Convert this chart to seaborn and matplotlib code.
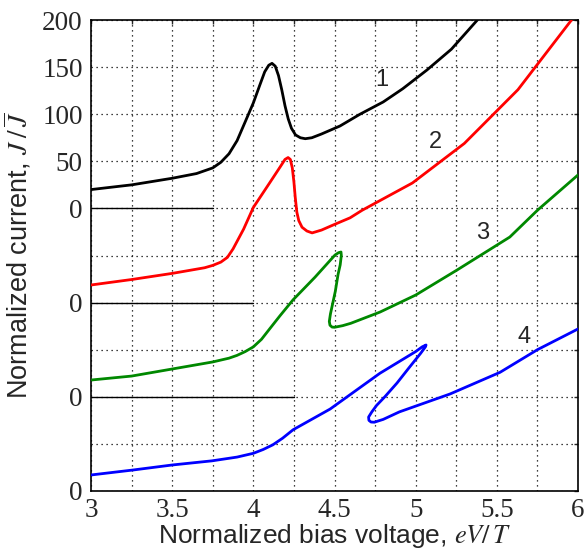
import matplotlib
matplotlib.use("Agg")
import matplotlib.pyplot as plt
import seaborn as sns
import numpy as np
import pandas as pd

# ---- data (relative current of each curve) ----
x1 = [3.0, 3.25, 3.5, 3.65, 3.75, 3.8, 3.85, 3.9, 3.95, 4.0, 4.04, 4.07, 4.095, 4.115, 4.135, 4.155,
      4.175, 4.195, 4.215, 4.235, 4.26, 4.29, 4.32, 4.36, 4.42, 4.534, 4.657, 4.8, 4.92, 5.07, 5.22, 5.38]
y1 = [20, 25, 32, 37, 43, 49, 58, 72, 92, 112, 131, 145, 152, 154, 151, 141,
      126, 109, 95, 85, 78, 75, 74, 75, 79, 87.5, 100, 113, 127, 147, 169, 200]

x2 = [3.0, 3.25, 3.5, 3.7, 3.75, 3.8, 3.84, 3.875, 3.94, 4.0, 4.05, 4.1, 4.165, 4.195, 4.214, 4.228, 4.24,
      4.25, 4.258, 4.268, 4.28, 4.3, 4.33, 4.362, 4.42, 4.5, 4.596, 4.67, 4.98, 5.30, 5.63, 5.96]
y2 = [18.7, 24.5, 31, 37, 39.5, 43, 48, 57, 78, 101, 114, 127, 144, 152, 154, 152, 143,
      128, 112, 96, 87, 80, 76, 74, 77, 83, 90, 98, 127, 169, 226, 300]

x3 = [3.0, 3.25, 3.5, 3.75, 3.85, 3.9, 3.95, 4.0, 4.05, 4.1, 4.164, 4.245, 4.38, 4.503, 4.525, 4.54,
      4.542, 4.535, 4.522, 4.505, 4.49, 4.475, 4.468, 4.472, 4.485, 4.5, 4.55, 4.6, 4.781, 5.0,
      5.255, 5.58, 5.75, 6.0]
y3 = [17.8, 22, 29.5, 37, 41, 44, 48, 53, 61, 72, 86, 103, 127, 150.5, 153, 153.7,
      150, 140, 130, 112, 100, 88, 80, 76, 74, 73.8, 75.5, 78, 90, 108,
      134.6, 169.6, 198, 235.5]

x4 = [3.0, 3.26, 3.5, 3.745, 3.9, 4.0, 4.06, 4.12, 4.18, 4.245, 4.473, 4.78, 5.0, 5.04, 5.064, 5.06,
      5.03, 4.96, 4.885, 4.81, 4.76, 4.73, 4.71, 4.712, 4.725, 4.745, 4.8, 4.9, 5.212, 5.52, 5.75, 6.0]
y4 = [17, 22.3, 27.6, 32, 36, 40, 44, 49, 56, 65, 87, 125, 148, 153, 155, 153,
      146, 131, 114.6, 100, 91, 84, 78.5, 75, 73.2, 73, 76, 84, 103, 126, 150, 172]

offsets = [300, 200, 100, 0]
baseline_ends = [3.75, 4.0, 4.25]
colors = ["black", "red", "#008800", "blue"]
curve_labels = ["1", "2", "3", "4"]
label_x = [4.79, 5.12, 5.41, 5.67]
label_y = [136, 170.5, 174, 163]

yticks = list(range(0, 501, 50))
ytick_labels = ["0", "", "0", "", "0", "", "0", "50", "100", "150", "200"]
xticks = [3 + 0.25 * i for i in range(13)]
xtick_labels = ["3", "", "3.5", "", "4", "", "4.5", "", "5", "", "5.5", "", "6"]

# ---- figure ----
sns.set_style("white")
plt.rcParams["mathtext.fontset"] = "stix"
plt.rcParams["font.family"] = ["Liberation Sans", "DejaVu Sans"]

fig = plt.figure(figsize=(5.85, 5.5), dpi=100)
ax = fig.add_axes([0.1556, 0.1073, 0.8324, 0.8563])

xs = [x1, x2, x3, x4]
ys = [y1, y2, y3, y4]
for xv, yv, off, col in zip(xs, ys, offsets, colors):
    df = pd.DataFrame({"x": xv, "y": np.array(yv) + off})
    sns.lineplot(data=df, x="x", y="y", sort=False, estimator=None,
                 color=col, lw=2.0, ax=ax, zorder=3)
for ln in ax.get_lines():
    ln.set_solid_joinstyle("round")
    ln.set_solid_capstyle("round")

for off, xe in zip(offsets[:3], baseline_ends):
    ax.plot([3, xe], [off, off], color="black", lw=1.0, zorder=2)

for t, lx, ly, off in zip(curve_labels, label_x, label_y, offsets):
    ax.text(lx, ly + off, t, fontsize=17, ha="center", va="center",
            family=["Liberation Sans", "DejaVu Sans"])

ax.set_xlim(3, 6)
ax.set_ylim(0, 500)
ax.set_xticks(xticks)
ax.set_xticklabels(xtick_labels)
ax.set_yticks(yticks)
ax.set_yticklabels(ytick_labels)
for lab in ax.get_xticklabels() + ax.get_yticklabels():
    lab.set_family(["Liberation Serif", "DejaVu Serif"])
    lab.set_fontsize(19.5)

ax.grid(True, color="black", linestyle=(0, (1, 3)), lw=0.9, zorder=1)
ax.tick_params(direction="in", length=3, width=1, top=True, right=True)
ax.tick_params(axis="x", pad=5)
ax.tick_params(axis="y", pad=6)
for s in ax.spines.values():
    s.set_color("black")
    s.set_linewidth(1.2)

ax.set_xlabel("Normalized bias voltage, $eV/\\,T$", fontsize=19, labelpad=-1)
ax.set_ylabel("Normalized current, $J\\;/\\,\\overline{J}$", fontsize=19.5, labelpad=6)

fig.savefig("out.png", dpi=100)
